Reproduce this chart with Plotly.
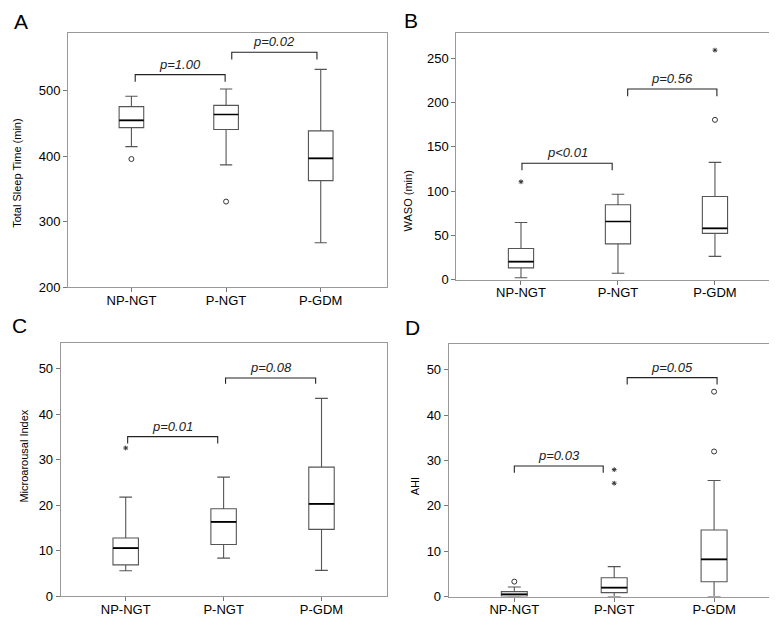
import plotly.graph_objects as go

W, H = 777, 618

categories = ["NP-NGT", "P-NGT", "P-GDM"]

# Panel A: Total Sleep Time (min)
tst_lower = [415, 387, 268]
tst_q1 = [444, 441, 363]
tst_median = [455, 464, 397]
tst_q3 = [476, 478, 439]
tst_upper = [492, 503, 533]
tst_circle_x = [0, 1]
tst_circle_y = [396, 331]
tst_star_x = []
tst_star_y = []

# Panel B: WASO (min)
waso_lower = [2.2, 7.4, 26.3]
waso_q1 = [13.4, 40.4, 52.3]
waso_median = [20.4, 65.7, 57.9]
waso_q3 = [35.2, 84.6, 93.8]
waso_upper = [64.5, 96.4, 132.4]
waso_circle_x = [2]
waso_circle_y = [180.3]
waso_star_x = [0, 2]
waso_star_y = [110.5, 258.9]

# Panel C: Microarousal Index
mai_lower = [5.6, 8.4, 5.7]
mai_q1 = [6.9, 11.4, 14.7]
mai_median = [10.6, 16.35, 20.3]
mai_q3 = [12.8, 19.25, 28.4]
mai_upper = [21.8, 26.2, 43.5]
mai_circle_x = []
mai_circle_y = []
mai_star_x = [0]
mai_star_y = [32.6]

# Panel D: AHI
ahi_lower = [0, 0, 0]
ahi_q1 = [0.07, 0.87, 3.27]
ahi_median = [0.5, 1.96, 8.2]
ahi_q3 = [1.09, 4.14, 14.7]
ahi_upper = [2.1, 6.6, 25.6]
ahi_circle_x = [0, 2, 2]
ahi_circle_y = [3.3, 32.0, 45.2]
ahi_star_x = [1, 1]
ahi_star_y = [25.0, 28.0]

# p-value brackets
tst_p_labels = ["p=1.00", "p=0.02"]
tst_p_x0 = [0.04, 1.06]
tst_p_x1 = [0.99, 1.96]
tst_p_leg = [514, 548]
tst_p_top = [525, 559]

waso_p_labels = ["p<0.01", "p=0.56"]
waso_p_x0 = [0.01, 1.10]
waso_p_x1 = [0.94, 2.02]
waso_p_leg = [123.5, 207]
waso_p_top = [131.3, 215.1]

mai_p_labels = ["p=0.01", "p=0.08"]
mai_p_x0 = [0.02, 1.02]
mai_p_x1 = [0.94, 1.94]
mai_p_leg = [33.6, 46.7]
mai_p_top = [35.1, 48.0]

ahi_p_labels = ["p=0.03", "p=0.05"]
ahi_p_x0 = [0.0, 1.13]
ahi_p_x1 = [0.89, 2.03]
ahi_p_leg = [27.3, 46.8]
ahi_p_top = [28.8, 48.3]

FONT = "Arial, Liberation Sans, sans-serif"
BOXW = 0.26

panels = [
    dict(letter="A", title="Total Sleep Time (min)",
         lower=tst_lower, q1=tst_q1, med=tst_median, q3=tst_q3, upper=tst_upper,
         cx=tst_circle_x, cy=tst_circle_y, sx=tst_star_x, sy=tst_star_y,
         pl=tst_p_labels, px0=tst_p_x0, px1=tst_p_x1, pleg=tst_p_leg, ptop=tst_p_top,
         yrange=[200, 589], ticks=[200, 300, 400, 500], xrange=[-0.67, 2.70],
         px=(60, 379, 25, 283), letter_pos=(13, 14), title_pos=(9, 168)),
    dict(letter="B", title="WASO (min)",
         lower=waso_lower, q1=waso_q1, med=waso_median, q3=waso_q3, upper=waso_upper,
         cx=waso_circle_x, cy=waso_circle_y, sx=waso_star_x, sy=waso_star_y,
         pl=waso_p_labels, px0=waso_p_x0, px1=waso_p_x1, pleg=waso_p_leg, ptop=waso_p_top,
         yrange=[0, 278.6], ticks=[0, 50, 100, 150, 200, 250], xrange=[-0.667, 2.65],
         px=(448.3, 770, 25, 275.3), letter_pos=(403.5, 13), title_pos=(400, 196)),
    dict(letter="C", title="Microarousal Index",
         lower=mai_lower, q1=mai_q1, med=mai_median, q3=mai_q3, upper=mai_upper,
         cx=mai_circle_x, cy=mai_circle_y, sx=mai_star_x, sy=mai_star_y,
         pl=mai_p_labels, px0=mai_p_x0, px1=mai_p_x1, pleg=mai_p_leg, ptop=mai_p_top,
         yrange=[0, 55.7], ticks=[0, 10, 20, 30, 40, 50], xrange=[-0.664, 2.669],
         px=(52.7, 379, 339.3, 596), letter_pos=(11.5, 322), title_pos=(16.5, 454)),
    dict(letter="D", title="AHI",
         lower=ahi_lower, q1=ahi_q1, med=ahi_median, q3=ahi_q3, upper=ahi_upper,
         cx=ahi_circle_x, cy=ahi_circle_y, sx=ahi_star_x, sy=ahi_star_y,
         pl=ahi_p_labels, px0=ahi_p_x0, px1=ahi_p_x1, pleg=ahi_p_leg, ptop=ahi_p_top,
         yrange=[0, 55.8], ticks=[0, 10, 20, 30, 40, 50], xrange=[-0.657, 2.64],
         px=(440.7, 770, 340, 596.3), letter_pos=(404, 323.5), title_pos=(406.5, 484)),
]

fig = go.Figure()
annotations = []
layout_axes = {}
positions = list(range(len(categories)))

for i, p in enumerate(panels):
    n = "" if i == 0 else str(i + 1)
    xa, ya = "x" + n, "y" + n
    fig.add_trace(go.Box(
        x=positions, q1=p["q1"], median=p["med"], q3=p["q3"],
        lowerfence=p["lower"], upperfence=p["upper"],
        width=BOXW, whiskerwidth=0.5, boxpoints=False,
        fillcolor="white", line=dict(color="#555555", width=1.1),
        xaxis=xa, yaxis=ya, showlegend=False, hoverinfo="skip"))
    mx, my = [], []
    for k, m in enumerate(p["med"]):
        mx += [positions[k] - BOXW / 2, positions[k] + BOXW / 2, None]
        my += [m, m, None]
    fig.add_trace(go.Scatter(x=mx, y=my, mode="lines",
                             line=dict(color="black", width=1.7),
                             xaxis=xa, yaxis=ya, showlegend=False, hoverinfo="skip"))
    if p["cx"]:
        fig.add_trace(go.Scatter(x=p["cx"], y=p["cy"], mode="markers",
                                 marker=dict(symbol="circle-open", size=5,
                                             color="#333333", line=dict(width=1)),
                                 xaxis=xa, yaxis=ya, showlegend=False))
    if p["sx"]:
        fig.add_trace(go.Scatter(x=p["sx"], y=p["sy"], mode="markers",
                                 marker=dict(symbol="asterisk-open", size=4,
                                             color="#333333", line=dict(width=1, color="#333333")),
                                 xaxis=xa, yaxis=ya, showlegend=False))
    for k, lab in enumerate(p["pl"]):
        x0, x1 = p["px0"][k], p["px1"][k]
        fig.add_trace(go.Scatter(
            x=[x0, x0, x1, x1], y=[p["pleg"][k], p["ptop"][k], p["ptop"][k], p["pleg"][k]],
            mode="lines", line=dict(color="#222222", width=1.1),
            xaxis=xa, yaxis=ya, showlegend=False, hoverinfo="skip"))
        annotations.append(dict(
            x=(x0 + x1) / 2, y=p["ptop"][k], xref=xa, yref=ya,
            text="<i>" + lab + "</i>", showarrow=False, yanchor="bottom", yshift=1,
            font=dict(family=FONT, size=13, color="#222222")))
    l, r, t, b = p["px"]
    common = dict(showline=True, mirror=True, linecolor="#999999", linewidth=1,
                  showgrid=False, zeroline=False, ticks="outside", ticklen=4,
                  tickcolor="#777777", tickfont=dict(family=FONT, size=13, color="black"))
    layout_axes["xaxis" + n] = dict(domain=[l / W, r / W], anchor=ya, range=p["xrange"],
                                    tickvals=positions, ticktext=categories,
                                    ticklabelstandoff=-3, **common)
    layout_axes["yaxis" + n] = dict(domain=[1 - b / H, 1 - t / H], anchor=xa, range=p["yrange"],
                                    tickvals=p["ticks"], **common)
    lx, ly = p["letter_pos"]
    annotations.append(dict(x=lx / W, y=1 - ly / H, xref="paper", yref="paper",
                            text=p["letter"], showarrow=False, xanchor="center", yanchor="middle",
                            font=dict(family=FONT, size=21, color="black")))
    tx, ty = p["title_pos"]
    annotations.append(dict(x=tx / W, y=1 - ty / H, xref="paper", yref="paper",
                            text=p["title"], showarrow=False, textangle=-90,
                            xanchor="center", yanchor="middle",
                            font=dict(family=FONT, size=11, color="black")))

fig.update_layout(width=W, height=H, margin=dict(l=0, r=0, t=0, b=0),
                  paper_bgcolor="white", plot_bgcolor="white",
                  annotations=annotations, **layout_axes)

fig.write_html("out.html")
